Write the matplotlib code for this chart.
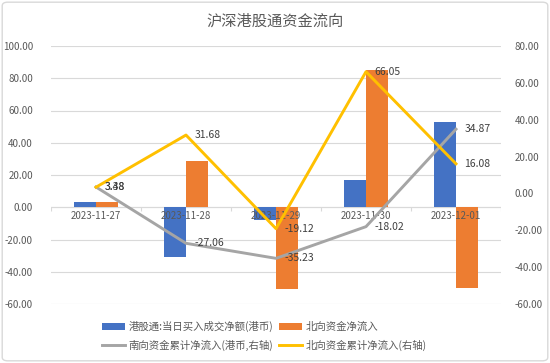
import matplotlib
matplotlib.use("Agg")
import matplotlib.pyplot as plt
import numpy as np
from matplotlib.patches import FancyBboxPatch

plt.rcParams['font.family'] = ['Noto Sans CJK SC', 'DejaVu Sans']
plt.rcParams['axes.unicode_minus'] = False

# 数据
dates = ["2023-11-27", "2023-11-28", "2023-11-29", "2023-11-30", "2023-12-01"]
hk_net_buy = [3.5, -30.7, -7.9, 17.0, 52.9]        # 港股通:当日买入成交净额(港币)
north_net = [3.4, 28.4, -51.0, 85.4, -50.2]        # 北向资金净流入
south_cum = [3.48, -27.06, -35.23, -18.02, 34.87]  # 南向资金累计净流入(港币,右轴)
north_cum = [3.38, 31.68, -19.12, 66.05, 16.08]    # 北向资金累计净流入(右轴)

left_ticks = [-60, -40, -20, 0, 20, 40, 60, 80, 100]
right_ticks = [-60, -40, -20, 0, 20, 40, 60, 80]

blue = "#4472C4"
orange = "#ED7D31"
gray = "#A5A5A5"
yellow = "#FFC000"
txt = "#595959"

fig = plt.figure(figsize=(5.5, 3.63), dpi=100)
ax = fig.add_axes([51/550, 1-304/363, 450/550, (304-46)/363])

x = np.arange(len(dates))
w = 0.245

b1 = ax.bar(x - w/2, hk_net_buy, w, color=blue, zorder=3)
b2 = ax.bar(x + w/2, north_net, w, color=orange, zorder=3)

ax.set_xlim(-0.5, len(dates) - 0.5)
ax.set_ylim(-60, 100)
ax.set_yticks(left_ticks)
ax.set_yticklabels([f"{v:.2f}" for v in left_ticks])
ax.grid(axis="y", color="#d9d9d9", lw=0.8, zorder=0)
ax.axhline(0, color="#d9d9d9", lw=0.8, zorder=1)
ax.vlines(np.arange(-0.5, len(dates)), -2.5, 0, color="#d9d9d9", lw=0.8, zorder=1)
ax.set_xticks([])
ax.tick_params(axis="y", length=0, pad=13, labelsize=7, labelcolor=txt)
for s in ax.spines.values():
    s.set_visible(False)

# 类别标签放在零线下方
for i, d in enumerate(dates):
    ax.annotate(d, (i, 0), xytext=(0, -3), textcoords="offset points",
                ha="center", va="top", fontsize=7, color=txt, zorder=4)

ax2 = ax.twinx()
ax2.set_ylim(-60, 80)
ax2.set_yticks(right_ticks)
ax2.set_yticklabels([f"{v:.2f}" for v in right_ticks])
ax2.tick_params(axis="y", length=0, pad=10, labelsize=7, labelcolor=txt)
for s in ax2.spines.values():
    s.set_visible(False)

l1, = ax2.plot(x, south_cum, color=gray, lw=2.1, zorder=5)
l2, = ax2.plot(x, north_cum, color=yellow, lw=2.1, zorder=6)

for vals in (south_cum, north_cum):
    for i, v in enumerate(vals):
        ax2.annotate(f"{v:.2f}", (i, v), xytext=(6, 0), textcoords="offset points",
                     ha="left", va="center", fontsize=7.5, color="#404040", zorder=7)

fig.suptitle("沪深港股通资金流向", y=1-21/363, va="center", fontsize=11, color=txt)

fig.legend([b1, l1, b2, l2],
           ["港股通:当日买入成交净额(港币)", "南向资金累计净流入(港币,右轴)",
            "北向资金净流入", "北向资金累计净流入(右轴)"],
           ncol=2, loc="center left", bbox_to_anchor=(98/550, 1-336/363),
           frameon=False, fontsize=7.5, labelcolor=txt,
           handlelength=2.2, handletextpad=0.3, columnspacing=0.6,
           labelspacing=0.7, borderaxespad=0)

fig.patches.append(FancyBboxPatch((0.004, 0.006), 0.992, 0.988,
                                  boxstyle="round,pad=0,rounding_size=0.01",
                                  transform=fig.transFigure, fill=False,
                                  edgecolor="#d9d9d9", lw=1))

fig.savefig("out.png", dpi=100)
